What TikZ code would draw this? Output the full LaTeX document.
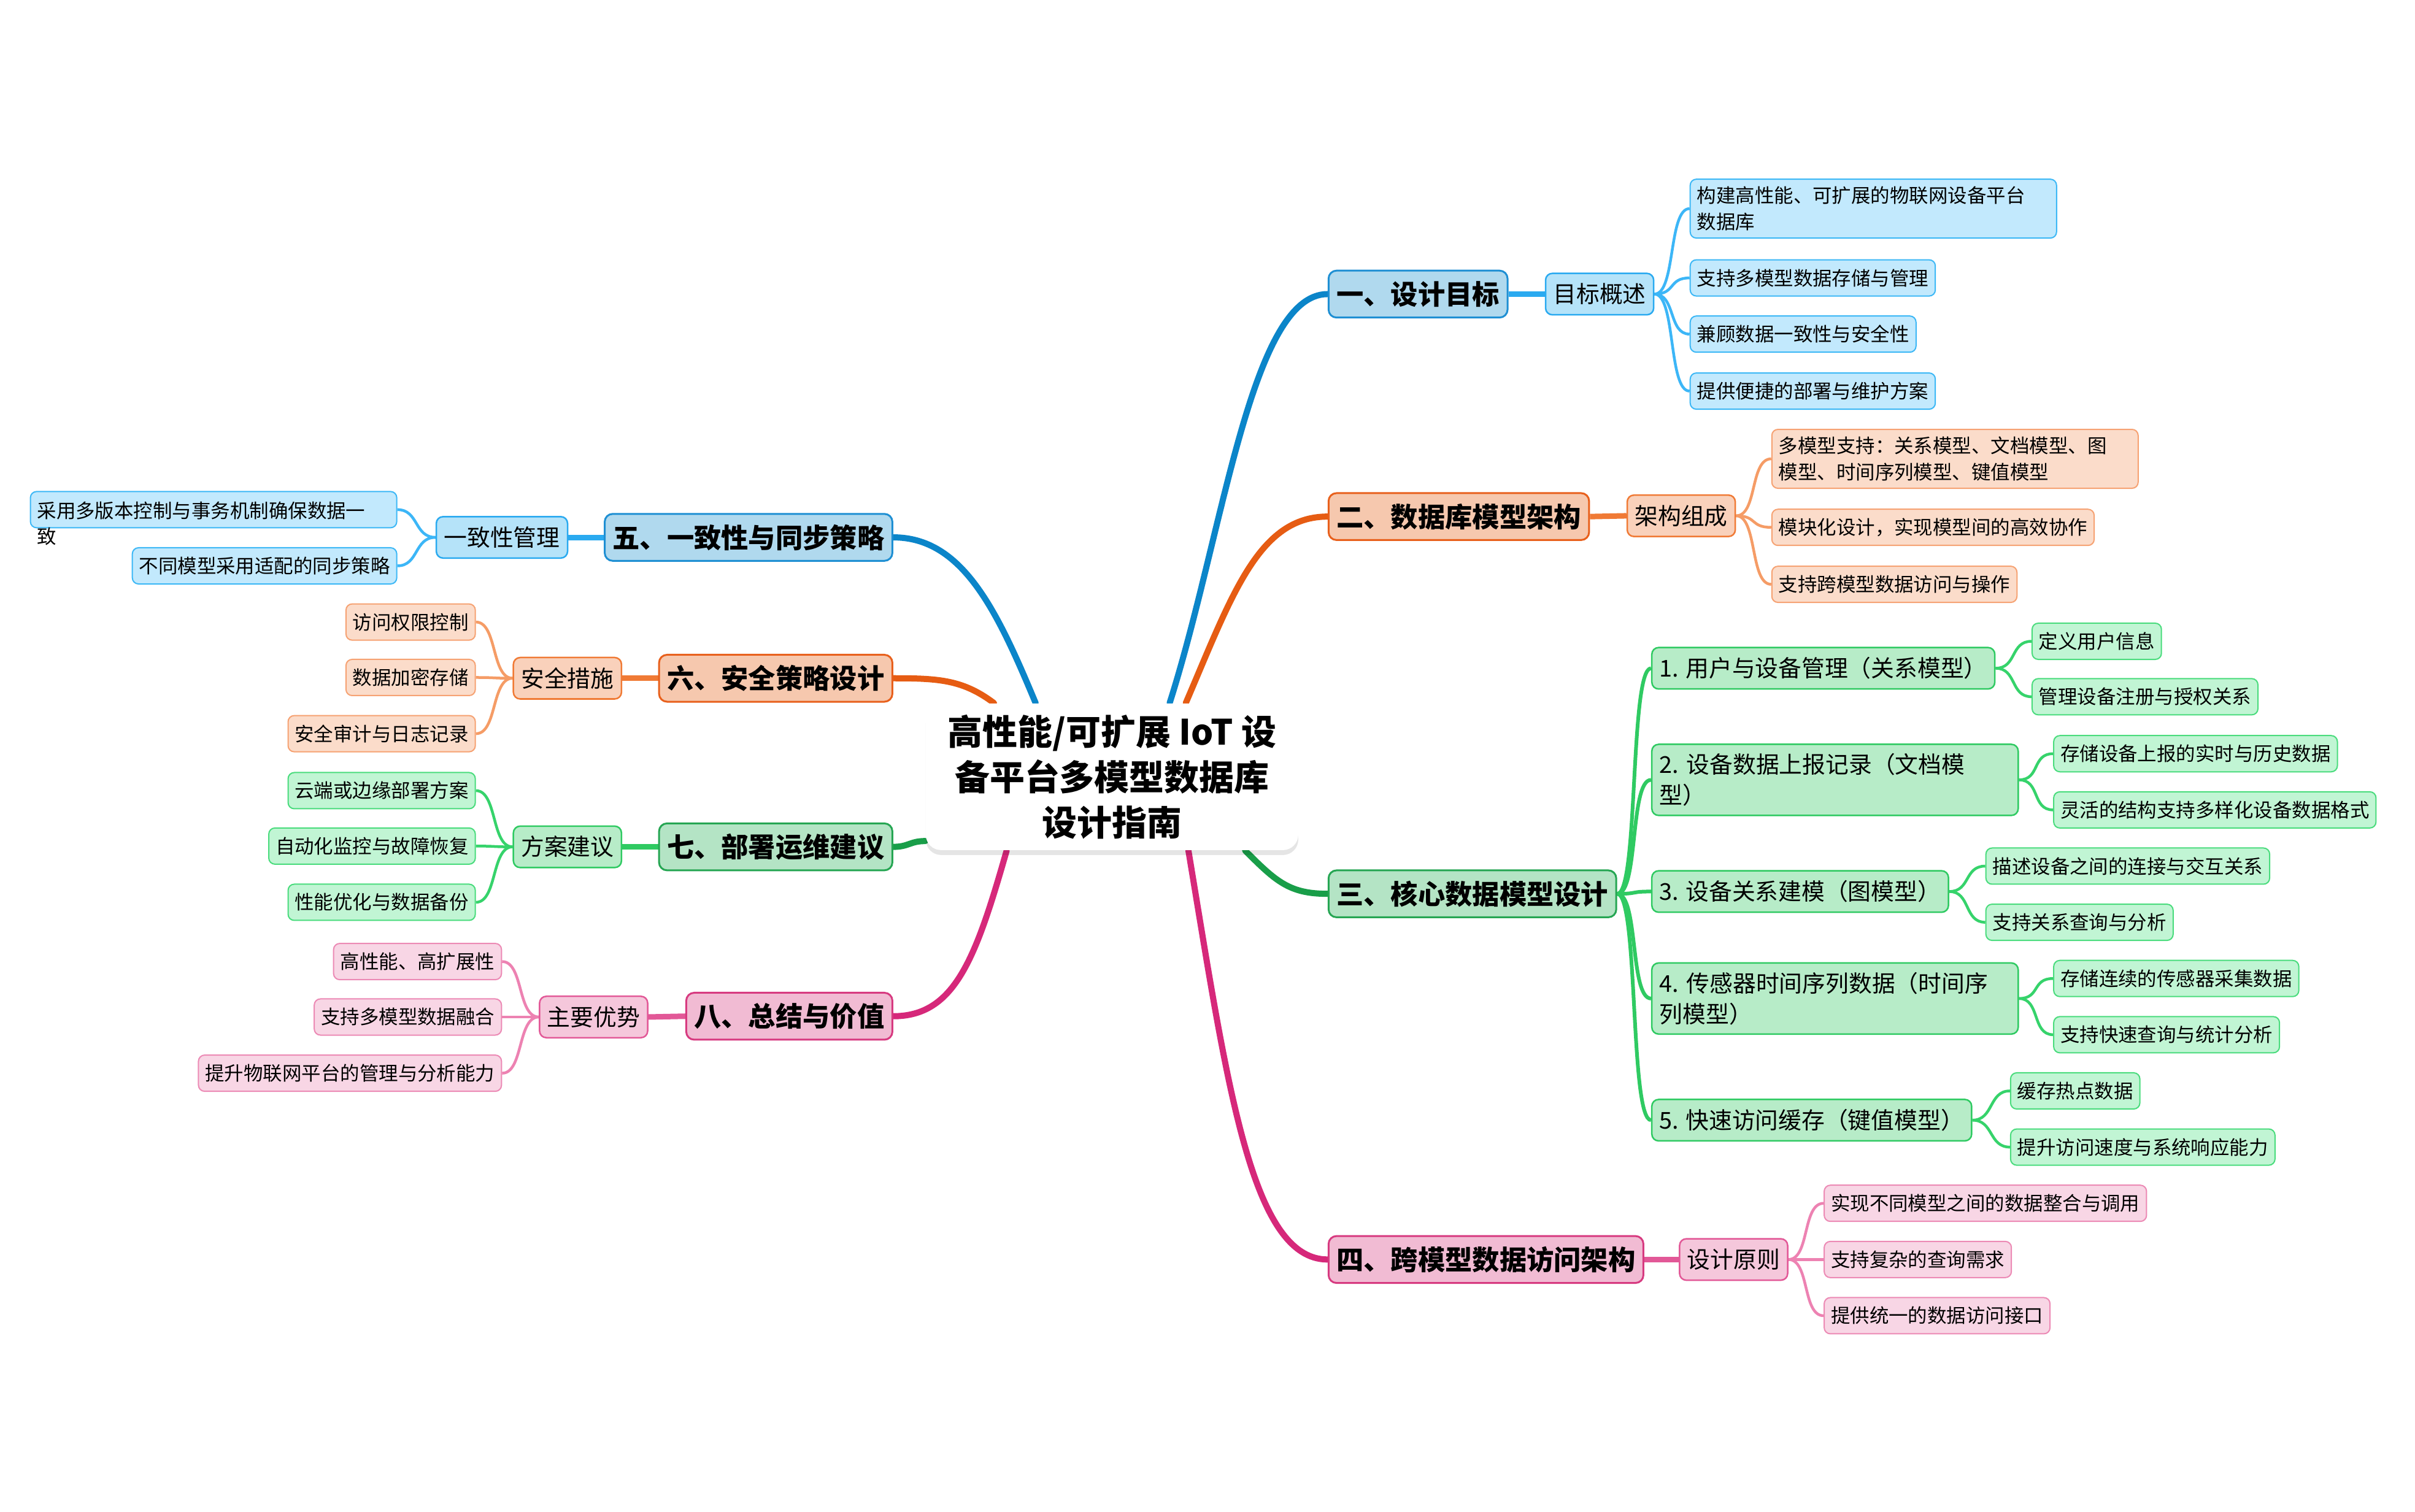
\documentclass[tikz,border=0pt]{standalone}
\usepackage{fontspec}
\setmainfont{Noto Sans CJK SC}
\usetikzlibrary{backgrounds,shadows}

\definecolor{blueM}{HTML}{0B85C9}
\definecolor{blueAf}{HTML}{B0D9EE}
\definecolor{blueAd}{HTML}{1E8FD3}
\definecolor{blueBf}{HTML}{B5E3F9}
\definecolor{blueBd}{HTML}{2AAAF0}
\definecolor{blueCf}{HTML}{C2E9FD}
\definecolor{blueCd}{HTML}{3DB8F6}
\definecolor{blueT}{HTML}{3CB6F7}
\definecolor{orangeM}{HTML}{E65C13}
\definecolor{orangeAf}{HTML}{F6C8AE}
\definecolor{orangeAd}{HTML}{E8601C}
\definecolor{orangeBf}{HTML}{F9D1BB}
\definecolor{orangeBd}{HTML}{F07A35}
\definecolor{orangeCf}{HTML}{FBDCCA}
\definecolor{orangeCd}{HTML}{F6A273}
\definecolor{orangeT}{HTML}{F59C66}
\definecolor{greenM}{HTML}{199E49}
\definecolor{greenAf}{HTML}{B4E4C5}
\definecolor{greenAd}{HTML}{26A653}
\definecolor{greenBf}{HTML}{B7ECC8}
\definecolor{greenBd}{HTML}{2FCA62}
\definecolor{greenCf}{HTML}{C1F5D4}
\definecolor{greenCd}{HTML}{4ADC7D}
\definecolor{greenT}{HTML}{36D36B}
\definecolor{pinkM}{HTML}{D6287A}
\definecolor{pinkAf}{HTML}{F1BBD3}
\definecolor{pinkAd}{HTML}{D73A80}
\definecolor{pinkBf}{HTML}{F5C7DB}
\definecolor{pinkBd}{HTML}{E25897}
\definecolor{pinkCf}{HTML}{F8D6E5}
\definecolor{pinkCd}{HTML}{EC8AB5}
\definecolor{pinkT}{HTML}{ED82B2}

\begin{document}
\begin{tikzpicture}[x=0.2510mm, y=0.2510mm,
root/.style={fill=white, rounded corners=2.5mm, align=center, font=\bfseries\fontsize{16.2}{21.1}\selectfont,
    minimum width=60.7mm, minimum height=23.9mm, drop shadow={shadow xshift=0mm, shadow yshift=-0.8mm, opacity=0.1, fill=black}},
topic/.style={draw=#1Ad, fill=#1Af, line width=0.3mm, rounded corners=1.3mm, font=\bfseries\fontsize{12.6}{15}\selectfont,
    inner xsep=1.3mm, inner ysep=1.4mm, minimum height=7.65mm},
sub/.style={draw=#1Bd, fill=#1Bf, line width=0.25mm, rounded corners=1.1mm, font=\fontsize{10.75}{14.2}\selectfont,
    inner xsep=1.25mm, inner ysep=1.5mm, minimum height=6.75mm},
leaf/.style={draw=#1Cd, fill=#1Cf, line width=0.2mm, rounded corners=1mm, font=\fontsize{8.95}{12.15}\selectfont,
    inner xsep=1.1mm, inner ysep=1.2mm, minimum height=5.9mm},
wrap/.style={text width=#1, align=left},
trunk/.style={draw=#1M, line width=1mm, line cap=round},
stem/.style={draw=#1Bd, line width=0.9mm},
twig/.style={draw=#1T, line width=0.45mm},
rfork/.style={out=0, in=180, out distance=3.5mm, in distance=3.5mm},
lfork/.style={out=180, in=0, out distance=3.5mm, in distance=3.5mm}]
    \useasboundingbox (0,0) rectangle (1568,-981.6);
    \node [root] (ctr) at (722,-504.5) {高性能/可扩展 IoT 设\\备平台多模型数据库\\设计指南};

    \node [topic=blue, anchor=west] (goal) at (862,-191) {一、设计目标};
    \node [sub=blue, anchor=west] (goalsum) at (1003,-191) {目标概述};
    \node [leaf=blue, anchor=west, wrap=57.5mm] (g1) at (1097,-135.5) {构建高性能、可扩展的物联网设备平台\\数据库};
    \node [leaf=blue, anchor=west] (g2) at (1097,-180.5) {支持多模型数据存储与管理};
    \node [leaf=blue, anchor=west] (g3) at (1097,-217) {兼顾数据一致性与安全性};
    \node [leaf=blue, anchor=west] (g4) at (1097,-254) {提供便捷的部署与维护方案};

    \node [topic=orange, anchor=west] (arch) at (862,-335.5) {二、数据库模型架构};
    \node [sub=orange, anchor=west] (archset) at (1056,-335) {架构组成};
    \node [leaf=orange, anchor=west, wrap=57.5mm] (a1) at (1150,-298) {多模型支持：关系模型、文档模型、图\\模型、时间序列模型、键值模型};
    \node [leaf=orange, anchor=west] (a2) at (1150,-342.5) {模块化设计，实现模型间的高效协作};
    \node [leaf=orange, anchor=west] (a3) at (1150,-379.5) {支持跨模型数据访问与操作};

    \node [topic=green, anchor=west] (core) at (862,-580.5) {三、核心数据模型设计};
    \node [sub=green, anchor=west] (m1) at (1072,-434) {1. 用户与设备管理（关系模型）};
    \node [sub=green, anchor=west, wrap=57.2mm] (m2) at (1072,-506.5) {2.\ 设备数据上报记录（文档模\\型）};
    \node [sub=green, anchor=west] (m3) at (1072,-579) {3. 设备关系建模（图模型）};
    \node [sub=green, anchor=west, wrap=57.2mm] (m4) at (1072,-648.5) {4.\ 传感器时间序列数据（时间序\\列模型）};
    \node [sub=green, anchor=west] (m5) at (1072,-727.5) {5. 快速访问缓存（键值模型）};
    \node [leaf=green, anchor=west] (m1a) at (1319,-416.5) {定义用户信息};
    \node [leaf=green, anchor=west] (m1b) at (1319,-452.5) {管理设备注册与授权关系};
    \node [leaf=green, anchor=west] (m2a) at (1333,-489.5) {存储设备上报的实时与历史数据};
    \node [leaf=green, anchor=west] (m2b) at (1333,-526) {灵活的结构支持多样化设备数据格式};
    \node [leaf=green, anchor=west] (m3a) at (1289,-562.5) {描述设备之间的连接与交互关系};
    \node [leaf=green, anchor=west] (m3b) at (1289,-599) {支持关系查询与分析};
    \node [leaf=green, anchor=west] (m4a) at (1333,-635.5) {存储连续的传感器采集数据};
    \node [leaf=green, anchor=west] (m4b) at (1333,-672) {支持快速查询与统计分析};
    \node [leaf=green, anchor=west] (m5a) at (1305,-708.5) {缓存热点数据};
    \node [leaf=green, anchor=west] (m5b) at (1305,-745) {提升访问速度与系统响应能力};

    \node [topic=pink, anchor=west] (access) at (862,-818) {四、跨模型数据访问架构};
    \node [sub=pink, anchor=west] (accrule) at (1090,-818) {设计原则};
    \node [leaf=pink, anchor=west] (c1) at (1184,-781.5) {实现不同模型之间的数据整合与调用};
    \node [leaf=pink, anchor=west] (c2) at (1184,-818) {支持复杂的查询需求};
    \node [leaf=pink, anchor=west] (c3) at (1184,-854.5) {提供统一的数据访问接口};

    \node [topic=blue, anchor=east] (sync) at (580,-349) {五、一致性与同步策略};
    \node [sub=blue, anchor=east] (syncmg) at (369,-349) {一致性管理};
    \node [leaf=blue, anchor=east] (s1) at (258,-331) {\raisebox{0pt}[\height][0pt]{\parbox[t]{57.5mm}{采用多版本控制与事务机制确保数据一\\致}}};
    \node [leaf=blue, anchor=east] (s2) at (258,-367.5) {不同模型采用适配的同步策略};

    \node [topic=orange, anchor=east] (sec) at (580,-440.5) {六、安全策略设计};
    \node [sub=orange, anchor=east] (secm) at (404,-440.5) {安全措施};
    \node [leaf=orange, anchor=east] (e1) at (309,-404) {访问权限控制};
    \node [leaf=orange, anchor=east] (e2) at (309,-440) {数据加密存储};
    \node [leaf=orange, anchor=east] (e3) at (309,-476.5) {安全审计与日志记录};

    \node [topic=green, anchor=east] (ops) at (580,-550) {七、部署运维建议};
    \node [sub=green, anchor=east] (opsad) at (404,-550) {方案建议};
    \node [leaf=green, anchor=east] (o1) at (309,-513.5) {云端或边缘部署方案};
    \node [leaf=green, anchor=east] (o2) at (309,-549.5) {自动化监控与故障恢复};
    \node [leaf=green, anchor=east] (o3) at (309,-586) {性能优化与数据备份};

    \node [topic=pink, anchor=east] (sum) at (580,-660) {八、总结与价值};
    \node [sub=pink, anchor=east] (sumad) at (421,-660.5) {主要优势};
    \node [leaf=pink, anchor=east] (v1) at (326,-624.5) {高性能、高扩展性};
    \node [leaf=pink, anchor=east] (v2) at (326,-660.5) {支持多模型数据融合};
    \node [leaf=pink, anchor=east] (v3) at (326,-697) {提升物联网平台的管理与分析能力};

    \begin{scope}[on background layer]
        \fill [white] (0,0) rectangle (1568,-981.6);
        \draw [trunk=blue] (ctr.52) .. controls +(35,110) and +(-50,0) .. (goal.west);
        \draw [trunk=orange] (ctr.45) .. controls +(30,70) and +(-45,0) .. (arch.west);
        \draw [trunk=green] (ctr.-29) .. controls +(20,-20) and +(-25,0) .. (core.west);
        \draw [trunk=pink] (ctr.-44) .. controls +(25,-150) and +(-50,0) .. (access.west);
        \draw [trunk=blue] (ctr.136) .. controls +(-25,60) and +(45,0) .. (sync.east);
        \draw [trunk=orange] (ctr.148) .. controls +(-20,15) and +(30,0) .. (sec.east);
        \draw [trunk=green] (ctr.199) .. controls +(-10,0) and +(10,0) .. (ops.east);
        \draw [trunk=pink] (ctr.215) .. controls +(-20,-70) and +(40,0) .. (sum.east);

        \draw [stem=blue] (goal.east) -- (goalsum.west);
        \draw [stem=orange] (arch.east) -- (archset.west);
        \draw [stem=pink] (access.east) -- (accrule.west);
        \draw [stem=blue] (sync.west) -- (syncmg.east);
        \draw [stem=orange] (sec.west) -- (secm.east);
        \draw [stem=green] (ops.west) -- (opsad.east);
        \draw [stem=pink] (sum.west) -- (sumad.east);
        \foreach \m in {m1,m2,m3,m4,m5}
            \draw [stem=green, line width=0.6mm] (core.east) to[rfork] (\m.west);

        \foreach \l in {g1,g2,g3,g4}
            \draw [twig=blue] (goalsum.east) to[rfork] (\l.west);
        \foreach \l in {a1,a2,a3}
            \draw [twig=orange] (archset.east) to[rfork] (\l.west);
        \foreach \p/\l in {m1/m1a,m1/m1b,m2/m2a,m2/m2b,m3/m3a,m3/m3b,m4/m4a,m4/m4b,m5/m5a,m5/m5b}
            \draw [twig=green] (\p.east) to[rfork] (\l.west);
        \foreach \l in {c1,c2,c3}
            \draw [twig=pink] (accrule.east) to[rfork] (\l.west);
        \foreach \l in {s1,s2}
            \draw [twig=blue] (syncmg.west) to[lfork] (\l.east);
        \foreach \l in {e1,e2,e3}
            \draw [twig=orange] (secm.west) to[lfork] (\l.east);
        \foreach \l in {o1,o2,o3}
            \draw [twig=green] (opsad.west) to[lfork] (\l.east);
        \foreach \l in {v1,v2,v3}
            \draw [twig=pink] (sumad.west) to[lfork] (\l.east);
    \end{scope}
\end{tikzpicture}
\end{document}
